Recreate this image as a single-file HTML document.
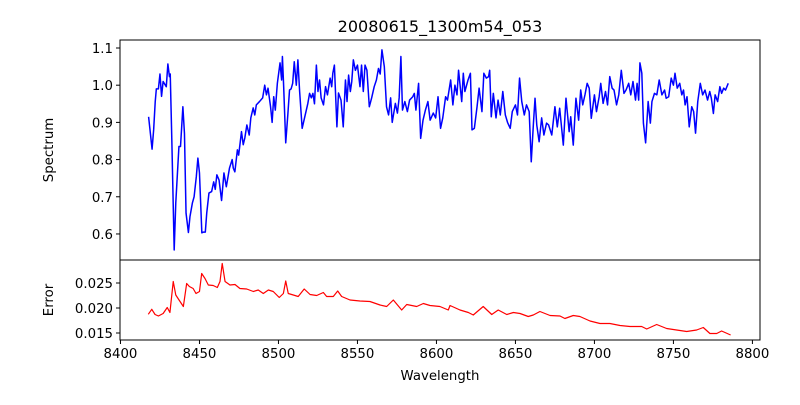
<!DOCTYPE html>
<html><head><meta charset="utf-8"><style>
body{margin:0;background:#fff;}
svg text{font-family:"DejaVu Sans","Liberation Sans",sans-serif;fill:#000;}
</style></head><body>
<svg id="chart" width="800" height="400" xmlns="http://www.w3.org/2000/svg">
<rect width="800" height="400" fill="#fff"/>
<text x="440" y="32" font-size="16" text-anchor="middle">20080615_1300m54_053</text>
<text x="0" y="0" font-size="13.3" text-anchor="middle" transform="translate(53,150) rotate(-90)">Spectrum</text>
<text x="0" y="0" font-size="13.3" text-anchor="middle" transform="translate(53,300) rotate(-90)">Error</text>
<text x="440" y="380" font-size="13.3" text-anchor="middle">Wavelength</text>
<g id="g"></g>
</svg>
<script>
const xTicks=[8400,8450,8500,8550,8600,8650,8700,8750,8800];
const specTicks=[0.6,0.7,0.8,0.9,1.0,1.1];
const errTicks=[0.015,0.020,0.025];
const specWave=[8417.8,8420,8421,8422,8422.7,8424,8425,8426,8427,8429,8430,8431,8431.5,8432.5,8434,8435,8437,8438,8439.5,8440.5,8441.5,8443,8444,8445.5,8446.6,8448,8449,8450,8451.5,8452.5,8453.7,8454.6,8456,8457.7,8459,8460,8461,8462.4,8464,8465.5,8467,8469,8470.7,8471.4,8472.4,8474,8474.8,8476.6,8477.7,8478.7,8480,8481.5,8482.5,8484,8485,8486,8488,8490,8491.3,8492.4,8493.4,8495,8496,8497,8498,8499.3,8501,8502,8502.5,8503.3,8504.6,8506,8507,8508,8509,8510,8511.3,8512.3,8513.4,8515,8516.5,8518.6,8519.7,8520.8,8521.8,8522.8,8524,8525,8526,8527,8528.5,8529.8,8531,8532.7,8533.7,8534.4,8535.4,8537,8538,8539.6,8541,8542.4,8543.4,8544.4,8545.5,8546.4,8547.4,8548.7,8550,8551.6,8552.6,8553.7,8554.8,8556,8557.5,8559,8560.6,8562,8563.3,8564.4,8565.5,8567,8568.4,8569.7,8571,8572,8574,8575.3,8576.4,8577.5,8578.5,8580,8581.6,8583,8585,8586,8587,8588.7,8590,8591.5,8593,8594.6,8596,8598,8599.5,8601,8602.6,8604,8605.8,8607,8609,8610.4,8611.7,8613,8614,8616,8617,8618,8620,8621.5,8622.5,8624,8625.7,8627,8628.8,8630,8631.6,8633,8633.7,8634.7,8636,8637.7,8639,8640.4,8642,8643.6,8645,8646.7,8648,8650,8651.3,8652.6,8654,8655.6,8657,8658.7,8660,8661.4,8662.4,8663.5,8665,8666.6,8668,8669.7,8671,8673,8675,8676.5,8678,8680.3,8682,8684,8685,8686.6,8688.3,8690,8691.3,8692.6,8694,8695.4,8696.7,8698,8700,8701.3,8703,8704,8705.5,8707,8708.3,8709.7,8711.2,8712.4,8714,8715.4,8717,8718.7,8720,8721.7,8723,8724.4,8726,8727,8728,8728.8,8730,8731,8732.4,8734,8735.4,8736.4,8738,8739.5,8741,8742.7,8744.4,8745.4,8747,8748.6,8750,8751,8752.4,8754,8755.3,8756.4,8757.4,8758.6,8760,8761.6,8762.8,8764,8765.4,8767,8768.5,8770,8771.6,8773,8774,8775.3,8776.4,8778,8779.4,8780.5,8781.8,8783,8784.7];
const specFlux=[0.915,0.828,0.88,0.956,0.99,0.99,1.03,0.97,1.01,0.996,1.057,1.023,1.03,0.853,0.557,0.683,0.835,0.835,0.942,0.87,0.656,0.604,0.647,0.683,0.70,0.754,0.804,0.764,0.603,0.605,0.605,0.656,0.71,0.714,0.74,0.72,0.759,0.745,0.69,0.764,0.727,0.777,0.80,0.777,0.767,0.826,0.812,0.875,0.84,0.858,0.893,0.866,0.912,0.939,0.92,0.947,0.956,0.966,1.0,0.974,0.992,0.942,0.90,0.969,0.933,1.005,1.06,1.014,1.077,0.996,0.845,0.925,0.987,0.99,1.005,1.063,1.0,1.068,0.983,0.884,0.912,0.951,0.978,0.966,0.978,0.95,1.054,0.983,1.014,0.966,0.947,0.996,0.974,1.019,0.996,1.032,1.054,0.888,0.979,0.96,0.888,1.014,0.956,1.027,0.983,1.01,1.068,1.04,1.054,0.996,1.054,0.983,1.054,1.04,0.942,0.966,0.996,1.014,1.045,1.03,1.095,1.05,0.942,0.92,0.966,0.90,0.951,0.925,0.966,1.077,0.933,0.956,0.929,0.96,0.969,0.978,0.933,1.005,0.857,0.906,0.933,0.956,0.906,0.925,0.912,0.969,0.884,0.912,0.969,0.96,1.014,0.947,1.0,0.974,1.04,0.956,1.032,0.983,1.014,1.032,0.88,0.884,0.942,0.992,0.929,1.032,1.019,1.023,1.04,0.915,0.978,0.912,0.96,0.92,0.983,0.92,0.90,0.884,0.929,0.947,0.92,1.019,0.956,0.92,0.947,0.929,0.794,0.898,0.965,0.893,0.848,0.912,0.866,0.898,0.893,0.866,0.942,0.888,0.938,0.839,0.965,0.875,0.915,0.839,0.965,0.906,0.987,0.947,0.974,1.005,0.992,0.911,0.974,0.929,0.969,1.005,0.951,0.983,0.947,1.023,0.992,0.987,0.947,0.974,1.04,0.978,0.987,1.005,0.974,1.01,0.96,1.005,0.96,1.06,1.032,0.898,0.845,0.956,0.898,0.956,0.978,0.974,1.014,0.974,0.987,0.965,0.969,1.019,1.0,1.032,0.992,1.005,0.974,0.987,0.947,0.969,0.888,0.942,0.929,0.871,0.956,1.005,0.974,0.987,0.96,0.983,0.965,0.924,0.974,0.956,0.996,0.978,0.992,0.987,1.005];
const errWave=[8417.6,8419.8,8421.9,8424,8427,8429.6,8431.3,8433.4,8435,8437.7,8439.8,8441.9,8443.6,8446,8447.8,8450,8451.4,8453.5,8455.6,8458.7,8461.3,8463,8464.4,8466.2,8469.3,8472.5,8475.6,8479.9,8484.1,8487.2,8490.4,8493.6,8496.7,8500.5,8503.1,8504.6,8506.2,8509.4,8512.5,8516.3,8520,8524.2,8528.4,8530.5,8534.7,8537.5,8540,8545.3,8551.6,8557.9,8564.3,8568.5,8572.7,8578,8581.2,8587.5,8591.7,8595.9,8602.2,8607.5,8608.6,8614.9,8620.2,8623.3,8629.6,8635,8639.1,8644.5,8648.7,8652.9,8658.1,8661.3,8665.5,8671.9,8678.2,8681.3,8686.6,8690.8,8697.2,8703.5,8709.8,8716.2,8722.5,8729.9,8733.1,8739.4,8745.7,8752,8758.4,8764.7,8768.9,8773.1,8777.4,8780.5,8786.2];
const errVal=[0.01874,0.01974,0.0187,0.0184,0.0189,0.0201,0.0191,0.0253,0.0226,0.0213,0.0203,0.0249,0.0243,0.0239,0.0229,0.0233,0.0269,0.0259,0.0246,0.0245,0.0241,0.0253,0.0289,0.0253,0.0246,0.0247,0.0239,0.0238,0.0233,0.0236,0.0229,0.0236,0.0233,0.0221,0.0229,0.0254,0.0229,0.0226,0.0223,0.0238,0.0227,0.0225,0.0231,0.0223,0.0223,0.0234,0.0223,0.0216,0.0214,0.0213,0.0206,0.0203,0.0216,0.0196,0.0207,0.0203,0.0209,0.0205,0.0203,0.0196,0.0205,0.0196,0.0191,0.0186,0.0203,0.0187,0.0196,0.0187,0.0191,0.0189,0.0183,0.0186,0.0193,0.0185,0.0184,0.0179,0.0185,0.0183,0.0174,0.0169,0.0169,0.0165,0.0163,0.0163,0.0158,0.0167,0.0159,0.0156,0.0153,0.0156,0.0161,0.0149,0.0149,0.0154,0.0146,0.0144];

const NS='http://www.w3.org/2000/svg';
const g=document.getElementById('g');
const L=120,R=760,T1=40,B1=260,T2=260,B2=340;
const xMin=8399.7,xMax=8804.8;
const sMin=0.530,sMax=1.1215;
const eMin=0.0136,eMax=0.0296;
const xs=v=>L+(v-xMin)/(xMax-xMin)*(R-L);
const ys=v=>B1-(v-sMin)/(sMax-sMin)*(B1-T1);
const ye=v=>B2-(v-eMin)/(eMax-eMin)*(B2-T2);
function mk(tag,attrs){const e=document.createElementNS(NS,tag);for(const k in attrs)e.setAttribute(k,attrs[k]);g.appendChild(e);return e;}

let p=mk('polyline',{points:specWave.map((w,i)=>xs(w).toFixed(2)+','+ys(specFlux[i]).toFixed(2)).join(' '),fill:'none',stroke:'#0000ff','stroke-width':1.5,'stroke-linejoin':'round'});


p=mk('polyline',{points:errWave.map((w,i)=>xs(w).toFixed(2)+','+ye(errVal[i]).toFixed(2)).join(' '),fill:'none',stroke:'#ff0000','stroke-width':1.2,'stroke-linejoin':'round'});



let f=mk('rect',{x:L,y:T1,width:R-L,height:B1-T1,fill:'none',stroke:'#000','stroke-width':1});


f=mk('rect',{x:L,y:T2,width:R-L,height:B2-T2,fill:'none',stroke:'#000','stroke-width':1});



xTicks.forEach(t=>{const x=xs(t);
 const tk=mk('line',{x1:x,x2:x,y1:B2,y2:B2+4,stroke:'#000'});
 
 
 const tx=mk('text',{x:x,y:B2+18,'font-size':13.3,'text-anchor':'middle'});tx.textContent=t;
 
 
});
specTicks.forEach(t=>{const y=ys(t);
 const tk=mk('line',{x1:L-4,x2:L,y1:y,y2:y,stroke:'#000'});
 
 
 const tx=mk('text',{x:L-7,y:y+5,'font-size':13.3,'text-anchor':'end'});tx.textContent=t.toFixed(1);
 
 
});
errTicks.forEach(t=>{const y=ye(t);
 const tk=mk('line',{x1:L-4,x2:L,y1:y,y2:y,stroke:'#000'});
 
 
 const tx=mk('text',{x:L-7,y:y+5,'font-size':13.3,'text-anchor':'end'});tx.textContent=t.toFixed(3);
 
 
});
</script>
</body></html>
